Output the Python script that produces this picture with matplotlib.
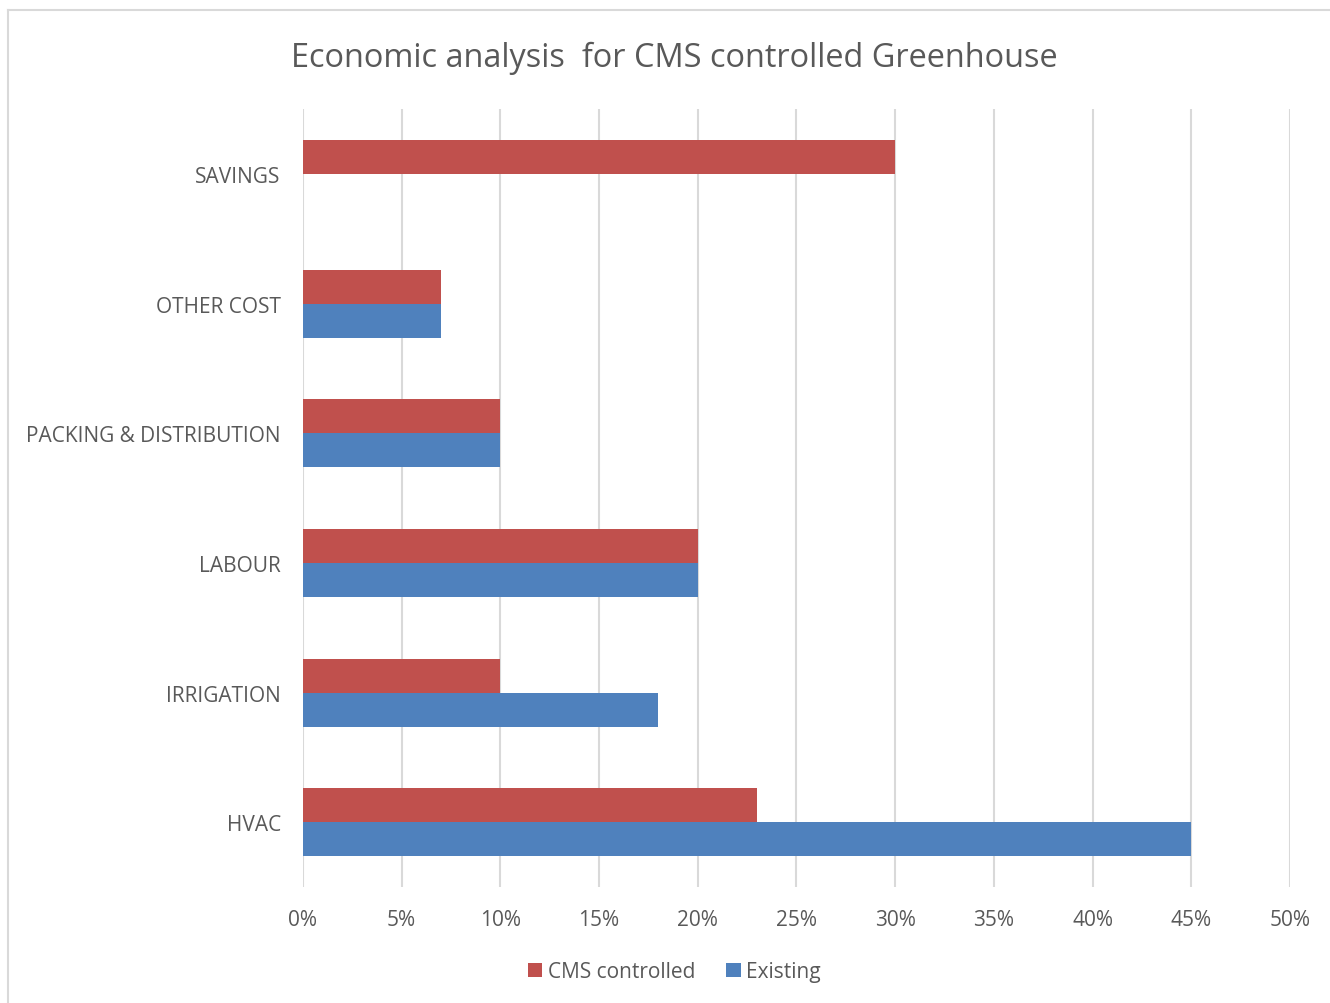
import matplotlib.pyplot as plt
import numpy as np
from matplotlib.lines import Line2D
from matplotlib.ticker import PercentFormatter

plt.rcParams['font.family'] = ['Open Sans', 'DejaVu Sans']

categories = ['HVAC', 'IRRIGATION', 'LABOUR', 'PACKING & DISTRIBUTION', 'OTHER COST', 'SAVINGS']
cms_controlled = [23, 10, 20, 10, 7, 30]
existing = [45, 18, 20, 10, 7, 0]

red = '#C0504D'
blue = '#4F81BD'
text_color = '#595959'

fig = plt.figure(figsize=(13.3, 10.04), dpi=100)
ax = fig.add_axes([0.2278, 0.1155, 0.7421, 0.7749])

y = np.arange(len(categories))
h = 0.262
ax.barh(y + h / 2, cms_controlled, height=h, color=red, label='CMS controlled', zorder=3)
ax.barh(y - h / 2, existing, height=h, color=blue, label='Existing', zorder=3)

ax.set_xlim(0, 50)
ax.set_ylim(-0.5, len(categories) - 0.5)
ax.set_xticks(np.arange(0, 51, 5))
ax.xaxis.set_major_formatter(PercentFormatter(decimals=0))
ax.set_yticks(y)
ax.set_yticklabels(categories)
ax.grid(axis='x', color='#D9D9D9', linewidth=1.5, zorder=0)
ax.tick_params(length=0, labelsize=15, labelcolor=text_color)
ax.tick_params(axis='x', pad=16)
ax.tick_params(axis='y', pad=16)
for s in ax.spines.values():
    s.set_visible(False)

fig.suptitle('Economic analysis  for CMS controlled Greenhouse', x=0.507, y=0.958,
             fontsize=23.4, color=text_color)

handles, labels = ax.get_legend_handles_labels()
fig.legend(handles, labels, loc='center', bbox_to_anchor=(0.507, 0.031), ncol=2,
           frameon=False, fontsize=15, labelcolor=text_color, handlelength=0.7,
           handleheight=0.7, handletextpad=0.25, columnspacing=1.5)

# outer chart border (left and top edges)
fig.add_artist(Line2D([8 / 1330, 8 / 1330], [0, 1 - 11 / 1004], color='#D9D9D9', lw=1.5))
fig.add_artist(Line2D([8 / 1330, 1], [1 - 11 / 1004, 1 - 11 / 1004], color='#D9D9D9', lw=1.5))

fig.savefig('out.png', dpi=100)
